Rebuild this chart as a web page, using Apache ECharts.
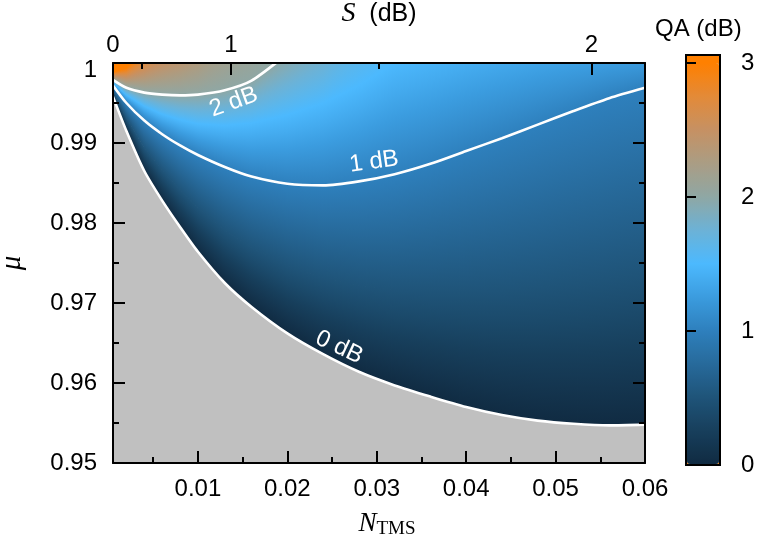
<!DOCTYPE html>
<html><head><meta charset="utf-8">
<script src="https://cdn.jsdelivr.net/npm/echarts@6/dist/echarts.min.js"></script>
<style>html,body{margin:0;padding:0;background:#fff}#c{width:760px;height:543px}</style>
</head><body><div id="c"></div>
<script>
// ---- data ----
// N_TMS columns at which the QA iso-level positions (mu) were read
const nGrid = [0.0005, 0.002, 0.004, 0.006, 0.008, 0.010, 0.013, 0.016, 0.020, 0.024, 0.028, 0.032, 0.036, 0.040, 0.044, 0.048, 0.052, 0.056, 0.060];
// QA levels (dB) of the iso-lines below
const qaLevels = [0, 0.5, 1, 1.5, 2, 2.5, 3, 3.5];
// mu position of each QA level per column (values > 1 lie above the plot and are clipped)
const mu0dB  = [0.9958, 0.9915, 0.9865, 0.9828, 0.9795, 0.9764, 0.9725, 0.9695, 0.9662, 0.9636, 0.9614, 0.9597, 0.9583, 0.9570, 0.9560, 0.9553, 0.9549, 0.9547, 0.9548];
const mu05dB = [0.99643, 0.99308, 0.98934, 0.98654, 0.98409, 0.98185, 0.97903, 0.97684, 0.97462, 0.9731, 0.97211, 0.97158, 0.9714, 0.9714, 0.97157, 0.97195, 0.9725, 0.97311, 0.97375];
const mu1dB  = [0.9972, 0.9950, 0.9928, 0.9911, 0.9897, 0.9885, 0.9870, 0.9858, 0.9849, 0.9847, 0.9852, 0.9861, 0.9874, 0.9890, 0.9906, 0.9923, 0.9940, 0.9956, 0.9969];
const mu15dB = [0.9975, 0.9960, 0.9946, 0.9936, 0.9929, 0.9924, 0.9922, 0.9925, 0.9935, 0.9950, 0.9972, 1.0000, 1.0014, 1.0028, 1.0037, 1.0043, 1.0043, 1.0041, 1.0036];
const mu2dB  = [0.9979, 0.9969, 0.9963, 0.99605, 0.99595, 0.99605, 0.9966, 0.9978, 1.0011, 1.0043, 1.0112, 1.012, 1.013, 1.014, 1.015, 1.016, 1.017, 1.018, 1.019];
const mu25dB = [0.9984, 0.9982, 0.99894, 1.0000, 1.00101, 1.00263, 1.00793, 1.0135, 1.025, 1.026, 1.027, 1.028, 1.029, 1.030, 1.031, 1.032, 1.033, 1.034, 1.035];
const mu3dB  = [0.99885, 0.9994, 1.00159, 1.00395, 1.0061, 1.0092, 1.019, 1.029, 1.040, 1.041, 1.042, 1.043, 1.044, 1.045, 1.046, 1.047, 1.048, 1.049, 1.050];
const mu35dB = [1.06, 1.06, 1.06, 1.06, 1.06, 1.06, 1.06, 1.06, 1.06, 1.06, 1.06, 1.06, 1.06, 1.06, 1.06, 1.06, 1.06, 1.06, 1.06];
const levelMu = [mu0dB, mu05dB, mu1dB, mu15dB, mu2dB, mu25dB, mu3dB, mu35dB];

// tick values / labels
const nMajorTicks = [0.01, 0.02, 0.03, 0.04, 0.05, 0.06];
const nMinorTicks = [0.005, 0.015, 0.025, 0.035, 0.045, 0.055];
const muMinorTicks = [0.955, 0.965, 0.975, 0.985, 0.995];
const sTickLabels = ['0', '1', '2'];
const sLabelN = [0.0005, 0.0137, 0.054];
const sMajorN = [0.0137, 0.054];
const sMinorN = [0.0037, 0.0302];
const qaTicks = [0, 1, 2, 3];

// contour labels
const curveLabels = [
  { text: '2 dB', n: 0.0140, mu: 0.9951, angle: 20 },
  { text: '1 dB', n: 0.0297, mu: 0.98765, angle: 8 },
  { text: '0 dB', n: 0.0258, mu: 0.96446, angle: -25 }
];

// ---- styling ----
const FONT = 'Liberation Sans';
const cmap = ['#102b42', '#173f5c', '#1f5479', '#276a9b', '#2e80bd', '#3b9cdf', '#4cb9fe',
              '#6cb2d6', '#8fa7a4', '#aa9d84', '#c69163', '#e38a38', '#ff8000'];
const CMAX = 3;
function hex2rgb(h) { return [parseInt(h.slice(1,3),16), parseInt(h.slice(3,5),16), parseInt(h.slice(5,7),16)]; }
const cmapRgb = cmap.map(hex2rgb);
function colorAt(v) {
  const t = Math.max(0, Math.min(1, v / CMAX)) * (cmap.length - 1);
  const i = Math.min(cmap.length - 2, Math.floor(t)), f = t - i;
  const a = cmapRgb[i], b = cmapRgb[i + 1];
  return 'rgb(' + [0,1,2].map(q => Math.round(a[q] + (b[q] - a[q]) * f)).join(',') + ')';
}
function lerpP(p, q, t) { return [p[0] + (q[0] - p[0]) * t, p[1] + (q[1] - p[1]) * t]; }
function bandFill(a, b, c, d, v0, v1) {
  const tx = (b[0] - a[0]) + (c[0] - d[0]), ty = (b[1] - a[1]) + (c[1] - d[1]);
  const tl = Math.hypot(tx, ty) || 1;
  const nx = -ty / tl, ny = tx / tl;
  const m0 = lerpP(a, b, 0.5), m1 = lerpP(d, c, 0.5);
  const dd = (m1[0] - m0[0]) * nx + (m1[1] - m0[1]) * ny;
  if (Math.abs(dd) < 0.3) return colorAt((v0 + v1) / 2);
  const stops = [0, 0.25, 0.5, 0.75, 1].map(t => ({ offset: t, color: colorAt(v0 + (v1 - v0) * t) }));
  return { type: 'linear', x: m0[0], y: m0[1], x2: m0[0] + nx * dd, y2: m0[1] + ny * dd, global: true, colorStops: stops };
}

const bandData = [];
for (let k = 0; k < qaLevels.length - 1; k++)
  for (let j = 0; j < nGrid.length - 1; j++)
    bandData.push([nGrid[j], levelMu[k][j], j, k]);

function renderBand(params, api) {
  const j = api.value(2), k = api.value(3);
  const lo = levelMu[k], hi = levelMu[k + 1];
  const pA = api.coord([nGrid[j], lo[j]]), pB = api.coord([nGrid[j + 1], lo[j + 1]]);
  const pD = api.coord([nGrid[j], hi[j]]), pC = api.coord([nGrid[j + 1], hi[j + 1]]);
  const drop = k === 0 ? 5 : 0;            // tuck the lowest band under the grey area edge
  const cs = params.coordSys;
  const SUB = 10, children = [];
  const wpx = Math.max(1, pB[0] - pA[0]);
  const ext = 0.9 / (wpx / SUB);            // small overlap to the right hides anti-alias seams
  for (let s = 0; s < SUB; s++) {
    const t0 = s / SUB, t1 = (s + 1) / SUB, t1e = t1 + ext / SUB;
    const ga = lerpP(pA, pB, t0), gb = lerpP(pA, pB, t1);
    const d = lerpP(pD, pC, t0), c = lerpP(pD, pC, t1);
    const a = lerpP(pA, pB, t0), b = lerpP(pA, pB, t1e);
    const de = [d[0], d[1] - 0.9], ce = lerpP(pD, pC, t1e); ce[1] -= 0.9;
    a[1] += drop; b[1] += drop;
    const fill = bandFill(ga, gb, c, d, qaLevels[k], qaLevels[k + 1]);
    children.push({ type: 'polygon', shape: { points: [a, b, ce, de] }, style: { fill: fill } });
  }
  return { type: 'group', children: children,
           clipPath: { type: 'rect', shape: { x: cs.x, y: cs.y, width: cs.width, height: cs.height } } };
}

function renderLabel(params, api) {
  const p = api.coord([api.value(0), api.value(1)]);
  const L = curveLabels[params.dataIndex];
  return { type: 'text', x: p[0], y: p[1], rotation: L.angle * Math.PI / 180,
           style: { text: L.text, fill: '#fff', font: '24px "' + FONT + '"', align: 'center', verticalAlign: 'middle' } };
}

const frameLine = { show: true, onZero: false, lineStyle: { color: '#000', width: 2 } };
const lbl = { fontFamily: FONT, fontSize: 24, color: '#000' };
function nearestLabel(v) {
  let bi = 0; sLabelN.forEach((n, i) => { if (Math.abs(n - v) < Math.abs(sLabelN[bi] - v)) bi = i; });
  return sTickLabels[bi];
}
const XMIN = 0.0005, XMAX = 0.06, YMIN = 0.95, YMAX = 1.0;
const G = { left: 113, top: 63, width: 532, height: 400, outerBoundsMode: 'none', containLabel: false };
// label-only grid: same scale as the main grid but wider, so the last label stays centred on its tick
const LW = 600, XMAX_L = XMIN + LW * (XMAX - XMIN) / G.width;
const whiteLine = { color: '#fff', width: 2.6 };
const toPts = arr => nGrid.map((n, i) => [n, arr[i]]);

const option = {
  animation: false,
  backgroundColor: '#fff',
  title: { text: 'QA (dB)', left: 650, top: 12, textStyle: { fontFamily: FONT, fontSize: 24, fontWeight: 'normal', color: '#000' } },
  grid: [
    Object.assign({ show: true, backgroundColor: '#c0c0c0', borderWidth: 0 }, G),
    Object.assign({ show: false }, G),
    { left: 686, top: 55, width: 34, height: 410, show: true, backgroundColor: '#ff8000', borderColor: '#000', borderWidth: 2,
      outerBoundsMode: 'none', containLabel: false },
    Object.assign({}, G, { width: LW, show: false })
  ],
  xAxis: [
    { gridIndex: 0, type: 'value', position: 'bottom', min: XMIN, max: XMAX, z: 10,
      axisLine: frameLine, splitLine: { show: false },
      axisTick: { inside: true, length: 12, customValues: nMajorTicks, lineStyle: { color: '#000', width: 2 } },
      axisLabel: { show: false },
      name: '{n|N}{s|TMS}', nameLocation: 'middle', nameGap: 46,
      nameTextStyle: { padding: [0, 0, 0, 16], rich: {
        n: { fontFamily: 'Liberation Serif', fontStyle: 'italic', fontSize: 27, lineHeight: 30, color: '#000' },
        s: { fontFamily: 'Liberation Serif', fontSize: 19, lineHeight: 19, verticalAlign: 'bottom', color: '#000' } } } },
    { gridIndex: 0, type: 'value', position: 'top', min: XMIN, max: XMAX, z: 10,
      axisLine: frameLine, splitLine: { show: false },
      axisTick: { inside: true, length: 12, customValues: sMajorN, lineStyle: { color: '#000', width: 2 } },
      axisLabel: Object.assign({ customValues: sLabelN, margin: 6, alignMinLabel: 'center', alignMaxLabel: 'center',
        formatter: v => nearestLabel(v) }, lbl),
      name: '{i|S}  (dB)', nameLocation: 'middle', nameGap: 26,
      nameTextStyle: { fontFamily: FONT, fontSize: 25, color: '#000',
        rich: { i: { fontFamily: 'Liberation Serif', fontStyle: 'italic', fontSize: 28, color: '#000' } } } },
    { gridIndex: 1, type: 'value', position: 'bottom', min: XMIN, max: XMAX, z: 10,
      axisLine: { show: false }, splitLine: { show: false }, axisLabel: { show: false },
      axisTick: { inside: true, length: 6, customValues: nMinorTicks, lineStyle: { color: '#000', width: 2 } } },
    { gridIndex: 1, type: 'value', position: 'top', min: XMIN, max: XMAX, z: 10,
      axisLine: { show: false }, splitLine: { show: false }, axisLabel: { show: false },
      axisTick: { inside: true, length: 6, customValues: sMinorN, lineStyle: { color: '#000', width: 2 } } },
    { gridIndex: 2, type: 'value', show: false, min: 0, max: 1 },
    { gridIndex: 3, type: 'value', position: 'bottom', min: XMIN, max: XMAX_L, z: 10,
      axisLine: { show: false }, splitLine: { show: false }, axisTick: { show: false },
      axisLabel: Object.assign({ customValues: nMajorTicks, margin: 14, alignMinLabel: 'center', alignMaxLabel: 'center',
        formatter: v => v.toFixed(2) }, lbl) }
  ],
  yAxis: [
    { gridIndex: 0, type: 'value', position: 'left', min: YMIN, max: YMAX, interval: 0.01, z: 10,
      axisLine: frameLine, splitLine: { show: false },
      axisTick: { inside: true, length: 12, lineStyle: { color: '#000', width: 2 } },
      axisLabel: Object.assign({ margin: 16,
        formatter: v => Math.abs(v - 1) < 1e-9 ? '{t|1}' : v.toFixed(2),
        rich: { t: { fontFamily: FONT, fontSize: 24, color: '#000', padding: [14, 0, 0, 0] } } }, lbl),
      name: 'μ', nameLocation: 'middle', nameGap: 86, nameRotate: 90,
      nameTextStyle: { fontFamily: 'Liberation Serif', fontStyle: 'italic', fontSize: 29, color: '#000' } },
    { gridIndex: 0, type: 'value', position: 'right', min: YMIN, max: YMAX, interval: 0.01, z: 10,
      axisLine: frameLine, splitLine: { show: false }, axisLabel: { show: false },
      axisTick: { inside: true, length: 12, lineStyle: { color: '#000', width: 2 } } },
    { gridIndex: 1, type: 'value', position: 'left', min: YMIN, max: YMAX, z: 10,
      axisLine: { show: false }, splitLine: { show: false }, axisLabel: { show: false },
      axisTick: { inside: true, length: 6, customValues: muMinorTicks, lineStyle: { color: '#000', width: 2 } } },
    { gridIndex: 1, type: 'value', position: 'right', min: YMIN, max: YMAX, z: 10,
      axisLine: { show: false }, splitLine: { show: false }, axisLabel: { show: false },
      axisTick: { inside: true, length: 6, customValues: muMinorTicks, lineStyle: { color: '#000', width: 2 } } },
    { gridIndex: 2, type: 'value', position: 'right', min: 0, max: 3.06, z: 10,
      axisLine: { show: false }, splitLine: { show: false },
      axisTick: { show: true, inside: false, length: 10, customValues: qaTicks, lineStyle: { color: '#000', width: 2 } },
      axisLabel: Object.assign({ customValues: qaTicks, margin: 21, formatter: v => String(Math.round(v)) }, lbl) },
    { gridIndex: 3, type: 'value', show: false, min: YMIN, max: YMAX }
  ],
  visualMap: {
    type: 'continuous', min: 0, max: CMAX, seriesIndex: 0, calculable: false, show: true,
    orient: 'vertical', left: 687, top: 63, itemWidth: 32, itemHeight: 401, padding: 0,
    inRange: { color: cmap }, textStyle: { color: 'rgba(0,0,0,0)' }
  },
  series: [
    { type: 'custom', xAxisIndex: 0, yAxisIndex: 0, data: bandData, renderItem: renderBand, clip: true, silent: true, z: 2 },
    // grey region below the 0 dB contour, bounded by the 0 dB line
    { type: 'line', xAxisIndex: 0, yAxisIndex: 0, data: toPts(mu0dB), smooth: 0.25,
      symbol: 'none', clip: true, silent: true, z: 4, lineStyle: whiteLine,
      areaStyle: { color: '#c0c0c0', opacity: 1, origin: 'start' } },
    { type: 'line', xAxisIndex: 0, yAxisIndex: 0, data: toPts(mu1dB), smooth: 0.25,
      symbol: 'none', clip: true, silent: true, z: 4, lineStyle: whiteLine },
    { type: 'line', xAxisIndex: 0, yAxisIndex: 0, data: toPts(mu2dB), smooth: 0.25,
      symbol: 'none', clip: true, silent: true, z: 4, lineStyle: whiteLine },
    { type: 'custom', xAxisIndex: 0, yAxisIndex: 0, data: curveLabels.map(L => [L.n, L.mu]), renderItem: renderLabel, silent: true, z: 5 }
  ]
};
echarts.init(document.getElementById('c'), null, { renderer: 'canvas' }).setOption(option);
</script>
</body></html>
